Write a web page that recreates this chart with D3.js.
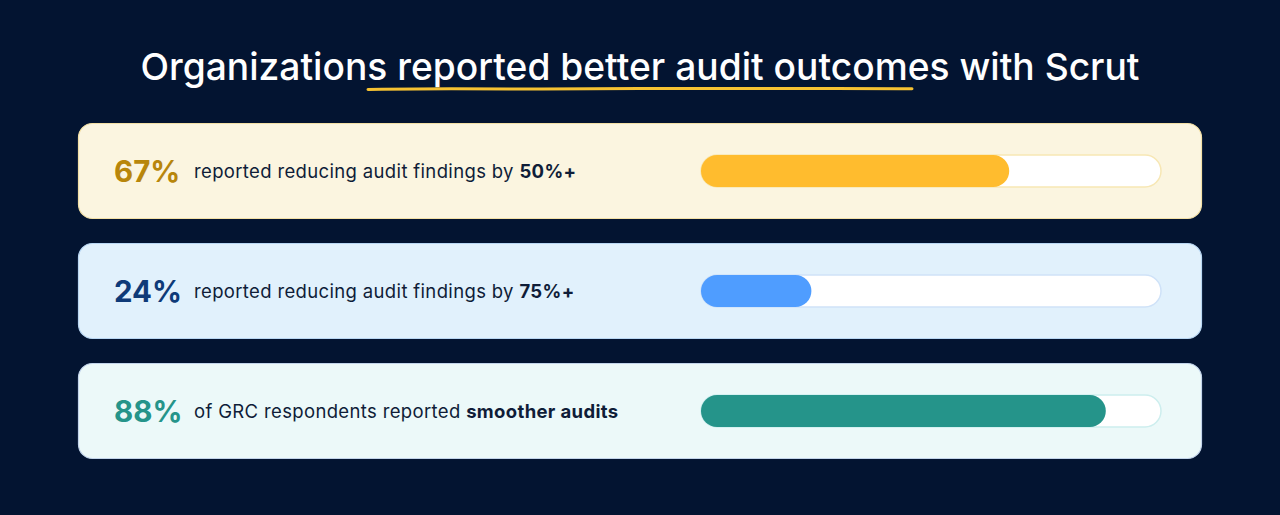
<!DOCTYPE html>
<html><head><meta charset="utf-8">
<script src="https://cdn.jsdelivr.net/npm/d3@7"></script>
<style>
html,body{margin:0;padding:0;background:#031431;}
svg{display:block;}
</style></head>
<body>
<svg id="chart" width="1280" height="515"></svg>
<script>
const title = "Organizations reported better audit outcomes with Scrut";
const values = [67, 24, 88];
const valueLabels = ["67%", "24%", "88%"];
const textPlain = ["reported reducing audit findings by ", "reported reducing audit findings by ", "of GRC respondents reported "];
const textBold = ["50%+", "75%+", "smoother audits"];
const valueColors = ["#b8860b", "#0e3a78", "#25948a"];
const barColors = ["#ffbc2e", "#4f9dff", "#25948a"];
const cardFills = ["#fbf5e0", "#e1f1fc", "#ecf9f9"];
const cardStrokes = ["#f3e0a6", "#b9d7f3", "#c2d4ea"];
const trackStrokes = ["#f7e7b4", "#cfe2f8", "#cdeeee"];

const svg = d3.select("#chart");
const font = "Inter, 'DejaVu Sans', sans-serif";

svg.append("rect").attr("width",1280).attr("height",515).attr("fill","#031431");

// title
svg.append("text").attr("x",640).attr("y",80).attr("text-anchor","middle")
  .attr("font-family",font).attr("font-size",37.2).attr("font-weight",500)
  .attr("fill","#ffffff").text(title);

// underline stroke (hand-drawn look)
const ul = d3.line().curve(d3.curveBasis);
svg.append("path")
  .attr("d", ul([[368,89.5],[450,88.5],[540,89.2],[640,88.3],[740,88.8],[840,88.2],[912,88.8]]))
  .attr("fill","none").attr("stroke","#f6c232").attr("stroke-width",3).attr("stroke-linecap","round");

const cardY = d3.scaleBand().domain(d3.range(values.length)).range([123, 459]).paddingInner(0.2);
const x = d3.scaleLinear().domain([0,100]).range([701, 1161]);

const g = svg.selectAll("g.card").data(values).join("g").attr("class","card")
  .attr("transform",(d,i)=>`translate(0,${cardY(i)})`);
const ch = cardY.bandwidth();

g.append("rect").attr("x",78.5).attr("y",0.5).attr("width",1123).attr("height",ch-1)
  .attr("rx",14).attr("fill",(d,i)=>cardFills[i]).attr("stroke",(d,i)=>cardStrokes[i]).attr("stroke-width",1.2);

g.append("text").attr("x",114).attr("y",ch/2+10.5)
  .attr("font-family",font).attr("font-size",29.5).attr("font-weight",700)
  .attr("fill",(d,i)=>valueColors[i]).text((d,i)=>valueLabels[i]);

const t = g.append("text").attr("x",194).attr("y",ch/2+7)
  .attr("font-family",font).attr("font-size",18.5).attr("letter-spacing","0.35").attr("fill","#0f1d38");
t.append("tspan").attr("font-weight",400).text((d,i)=>textPlain[i]);
t.append("tspan").attr("font-weight",700).text((d,i)=>textBold[i]);

const th = 32;
g.append("rect").attr("x",x(0)).attr("y",ch/2-th/2).attr("width",x(100)-x(0)).attr("height",th)
  .attr("rx",th/2).attr("fill","#ffffff").attr("stroke",(d,i)=>trackStrokes[i]).attr("stroke-width",1.5);
g.append("rect").attr("x",x(0)).attr("y",ch/2-th/2).attr("width",d=>x(d)-x(0)).attr("height",th)
  .attr("rx",th/2).attr("fill",(d,i)=>barColors[i]);
</script>
</body></html>
